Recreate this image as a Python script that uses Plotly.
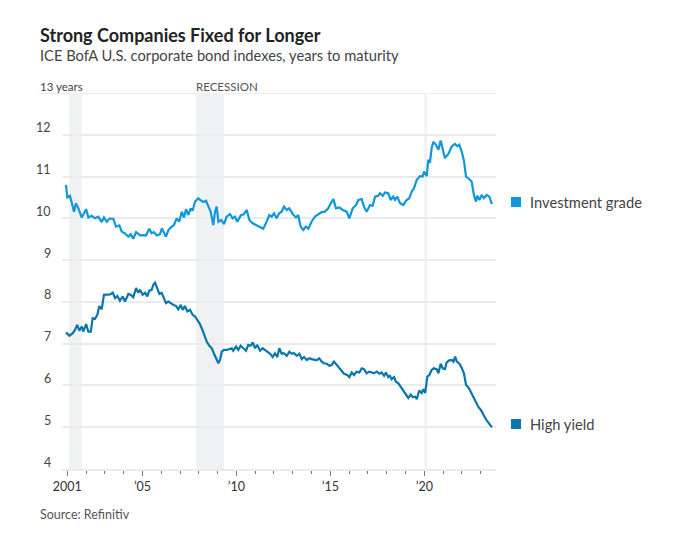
import plotly.graph_objects as go

# ---- data (decimal years, years to maturity) ----
ig_year = [2000.93, 2001.0, 2001.14, 2001.23, 2001.36, 2001.46, 2001.59, 2001.77, 2002.0, 2002.12,
           2002.30, 2002.47, 2002.65, 2002.83, 2002.95, 2003.10, 2003.24, 2003.45, 2003.59, 2003.77,
           2003.90, 2004.07, 2004.25, 2004.37, 2004.51, 2004.66, 2004.87, 2005.04, 2005.19, 2005.36,
           2005.49, 2005.61, 2005.76, 2005.93, 2006.04, 2006.25, 2006.38, 2006.56, 2006.68, 2006.82,
           2006.96, 2007.09, 2007.21, 2007.32, 2007.44, 2007.57, 2007.67, 2007.80, 2007.97, 2008.06,
           2008.15, 2008.24, 2008.38, 2008.50, 2008.63, 2008.77, 2008.86, 2008.95, 2009.04, 2009.20,
           2009.34, 2009.48, 2009.66, 2009.80, 2009.92, 2010.05, 2010.23, 2010.40, 2010.55, 2010.69,
           2010.87, 2011.04, 2011.22, 2011.43, 2011.61, 2011.75, 2011.88, 2012.0, 2012.14, 2012.28,
           2012.41, 2012.53, 2012.68, 2012.81, 2013.0, 2013.17, 2013.29, 2013.42, 2013.56, 2013.70,
           2013.83, 2014.0, 2014.18, 2014.36, 2014.54, 2014.71, 2014.89, 2015.02, 2015.16, 2015.30,
           2015.48, 2015.66, 2015.87, 2016.01, 2016.19, 2016.37, 2016.49, 2016.67, 2016.79, 2016.93,
           2017.11, 2017.25, 2017.38, 2017.55, 2017.64, 2017.79, 2017.91, 2018.08, 2018.21, 2018.35,
           2018.44, 2018.56, 2018.71, 2018.88, 2019.06, 2019.20, 2019.33, 2019.45, 2019.60, 2019.77,
           2019.91, 2019.98, 2020.13, 2020.21, 2020.30, 2020.39, 2020.48, 2020.62, 2020.75, 2020.87,
           2020.98, 2021.10, 2021.28, 2021.46, 2021.63, 2021.76, 2021.86, 2021.99, 2022.11, 2022.22,
           2022.34, 2022.52, 2022.64, 2022.75, 2022.82, 2022.93, 2023.05, 2023.17, 2023.32, 2023.46,
           2023.60]
ig_value = [10.80, 10.50, 10.54, 10.40, 10.16, 10.36, 10.24, 10.02, 10.22, 10.02,
            10.06, 10.00, 10.04, 9.91, 10.02, 9.92, 9.99, 9.99, 9.80, 9.83,
            9.68, 9.64, 9.56, 9.62, 9.51, 9.67, 9.59, 9.60, 9.59, 9.75,
            9.64, 9.67, 9.59, 9.62, 9.76, 9.56, 9.72, 9.80, 9.84, 10.00,
            9.92, 10.16, 10.02, 10.22, 10.08, 10.24, 10.18, 10.40, 10.48, 10.44,
            10.42, 10.39, 10.42, 10.28, 10.16, 9.84, 10.16, 10.28, 9.92, 9.96,
            9.86, 10.04, 10.10, 10.00, 10.04, 9.92, 10.07, 10.10, 10.20, 9.96,
            9.88, 9.84, 9.80, 9.75, 9.92, 10.08, 10.04, 10.12, 10.00, 10.12,
            10.16, 10.28, 10.20, 10.24, 10.10, 10.02, 10.08, 9.80, 9.72, 9.80,
            9.75, 9.92, 10.04, 10.10, 10.15, 10.16, 10.24, 10.36, 10.46, 10.24,
            10.26, 10.20, 10.16, 10.00, 10.24, 10.32, 10.44, 10.46, 10.28, 10.16,
            10.32, 10.30, 10.52, 10.54, 10.60, 10.54, 10.62, 10.60, 10.44, 10.52,
            10.44, 10.52, 10.36, 10.32, 10.44, 10.48, 10.64, 10.72, 10.92, 11.01,
            11.00, 11.12, 11.01, 11.40, 11.33, 11.68, 11.83, 11.76, 11.64, 11.86,
            11.64, 11.44, 11.54, 11.72, 11.78, 11.73, 11.76, 11.60, 11.38, 11.00,
            10.96, 10.88, 10.56, 10.40, 10.54, 10.44, 10.56, 10.48, 10.56, 10.52,
            10.34]

hy_year = [2000.93, 2001.11, 2001.29, 2001.41, 2001.53, 2001.64, 2001.77, 2001.85, 2002.0, 2002.12,
           2002.25, 2002.35, 2002.47, 2002.60, 2002.70, 2002.83, 2002.95, 2003.10, 2003.27, 2003.42,
           2003.54, 2003.66, 2003.80, 2003.95, 2004.07, 2004.25, 2004.37, 2004.51, 2004.66, 2004.78,
           2004.87, 2005.01, 2005.14, 2005.26, 2005.36, 2005.49, 2005.58, 2005.67, 2005.79, 2005.90,
           2006.02, 2006.15, 2006.25, 2006.38, 2006.50, 2006.64, 2006.79, 2006.91, 2007.04, 2007.14,
           2007.26, 2007.39, 2007.53, 2007.67, 2007.80, 2007.92, 2008.06, 2008.21, 2008.33, 2008.42,
           2008.56, 2008.69, 2008.81, 2008.91, 2009.04, 2009.13, 2009.22, 2009.34, 2009.48, 2009.62,
           2009.75, 2009.83, 2009.98, 2010.10, 2010.23, 2010.37, 2010.51, 2010.63, 2010.76, 2010.87,
           2010.99, 2011.11, 2011.26, 2011.40, 2011.52, 2011.64, 2011.79, 2011.93, 2012.05, 2012.18,
           2012.28, 2012.41, 2012.53, 2012.68, 2012.82, 2012.94, 2013.07, 2013.21, 2013.35, 2013.48,
           2013.60, 2013.74, 2013.88, 2014.01, 2014.13, 2014.27, 2014.41, 2014.54, 2014.66, 2014.81,
           2014.94, 2015.07, 2015.19, 2015.34, 2015.48, 2015.60, 2015.73, 2015.90, 2016.01, 2016.14,
           2016.26, 2016.40, 2016.54, 2016.67, 2016.79, 2016.93, 2017.07, 2017.20, 2017.32, 2017.47,
           2017.61, 2017.73, 2017.86, 2017.96, 2018.08, 2018.17, 2018.26, 2018.39, 2018.49, 2018.62,
           2018.74, 2018.88, 2019.03, 2019.15, 2019.28, 2019.38, 2019.51, 2019.60, 2019.73, 2019.86,
           2019.95, 2020.05, 2020.16, 2020.27, 2020.39, 2020.51, 2020.66, 2020.75, 2020.87, 2020.98,
           2021.10, 2021.19, 2021.33, 2021.46, 2021.55, 2021.64, 2021.73, 2021.87, 2022.0, 2022.11,
           2022.22, 2022.34, 2022.47, 2022.61, 2022.75, 2022.87, 2023.0, 2023.14, 2023.28, 2023.41,
           2023.53, 2023.60]
hy_value = [7.27, 7.19, 7.25, 7.33, 7.45, 7.31, 7.41, 7.29, 7.47, 7.29,
            7.29, 7.61, 7.59, 7.69, 7.90, 7.82, 8.17, 8.17, 8.18, 8.22,
            8.09, 8.14, 8.03, 8.13, 8.01, 8.19, 8.17, 8.11, 8.33, 8.22,
            8.29, 8.17, 8.22, 8.13, 8.27, 8.29, 8.41, 8.46, 8.33, 8.19,
            8.22, 8.09, 7.97, 8.01, 7.97, 7.93, 7.90, 7.82, 7.93, 7.81,
            7.90, 7.77, 7.81, 7.69, 7.65, 7.57, 7.47, 7.31, 7.13, 7.05,
            6.95, 6.89, 6.76, 6.65, 6.53, 6.61, 6.81, 6.85, 6.85, 6.87,
            6.89, 6.83, 6.93, 6.85, 6.95, 6.89, 6.83, 6.97, 6.95, 7.03,
            6.89, 6.97, 6.83, 6.89, 6.85, 6.81, 6.76, 6.68, 6.77, 6.68,
            6.89, 6.76, 6.77, 6.71, 6.81, 6.76, 6.77, 6.71, 6.76, 6.63,
            6.68, 6.61, 6.65, 6.63, 6.61, 6.60, 6.65, 6.57, 6.53, 6.52,
            6.47, 6.49, 6.57, 6.49, 6.44, 6.36, 6.28, 6.25, 6.20, 6.31,
            6.25, 6.33, 6.31, 6.41, 6.39, 6.29, 6.33, 6.31, 6.29, 6.33,
            6.28, 6.31, 6.23, 6.31, 6.20, 6.23, 6.15, 6.20, 6.09, 6.05,
            5.97, 5.89, 5.80, 5.70, 5.78, 5.72, 5.73, 5.67, 5.88, 5.82,
            5.91, 5.82, 6.21, 6.25, 6.37, 6.41, 6.39, 6.29, 6.52, 6.41,
            6.39, 6.55, 6.60, 6.61, 6.57, 6.69, 6.57, 6.52, 6.41, 6.29,
            6.01, 5.96, 5.85, 5.73, 5.61, 5.49, 5.42, 5.30, 5.19, 5.11,
            5.03, 5.00]

recessions = [(2001.10, 2001.77), (2007.85, 2009.35), (2020.0, 2020.15)]
x_tick_vals = [2001, 2005, 2010, 2015, 2020]
x_tick_text = ["2001", "\u201905", "\u201910", "\u201915", "\u201920"]
y_tick_vals = [12, 11, 10, 9, 8, 7, 6, 5, 4]
series_names = ["Investment grade", "High yield"]
series_colors = ["#0f97d8", "#0a76ab"]

# ---- layout geometry (pixels) ----
W, H = 676, 536
L, R, T, B = 62, 180, 93, 67
PW, PH = W - L - R, H - T - B

def px(x):
    return (x - L) / PW

def py(y):
    return (H - B - y) / PH

FONT = "Lato"
fig = go.Figure()

for (x0, x1) in recessions:
    fig.add_shape(type="rect", xref="x", yref="y", x0=x0, x1=x1, y0=4, y1=13,
                  fillcolor="#f0f1f3", line_width=0, layer="below")

fig.add_trace(go.Scatter(x=ig_year, y=ig_value, mode="lines", name=series_names[0],
                         line=dict(color=series_colors[0], width=2.2), hoverinfo="skip"))
fig.add_trace(go.Scatter(x=hy_year, y=hy_value, mode="lines", name=series_names[1],
                         line=dict(color=series_colors[1], width=2.2), hoverinfo="skip"))

# top gridline extends under "13 years"
fig.add_shape(type="line", xref="paper", yref="y", x0=px(39), x1=1, y0=13, y1=13,
              line=dict(color="#ebebeb", width=2), layer="below")

annotations = []
annotations.append(dict(text="<b>Strong Companies Fixed for Longer</b>", x=px(38), y=py(35),
                        xref="paper", yref="paper", xanchor="left", yanchor="middle", showarrow=False,
                        font=dict(family=FONT, size=18, color="#222222")))
annotations.append(dict(text="ICE BofA U.S. corporate bond indexes, years to maturity", x=px(38), y=py(55),
                        xref="paper", yref="paper", xanchor="left", yanchor="middle", showarrow=False,
                        font=dict(family=FONT, size=14.7, color="#444444")))
annotations.append(dict(text="Source: Refinitiv", x=px(38), y=py(514),
                        xref="paper", yref="paper", xanchor="left", yanchor="middle", showarrow=False,
                        font=dict(family=FONT, size=12.5, color="#555555")))
annotations.append(dict(text="13 years", x=px(38), y=py(86.5),
                        xref="paper", yref="paper", xanchor="left", yanchor="middle", showarrow=False,
                        font=dict(family=FONT, size=11.5, color="#444444")))
annotations.append(dict(text="RECESSION", x=recessions[1][0], y=py(86.5),
                        xref="x", yref="paper", xanchor="left", yanchor="middle", showarrow=False,
                        xshift=-2, font=dict(family=FONT, size=11.5, color="#555555")))
for v in y_tick_vals:
    annotations.append(dict(text=str(v), x=px(53), y=v, xref="paper", yref="y",
                            xanchor="right", yanchor="middle", yshift=7, showarrow=False,
                            font=dict(family=FONT, size=12.5, color="#444444")))

legend_y = [202, 424]
for name, color, ly in zip(series_names, series_colors, legend_y):
    fig.add_shape(type="rect", xref="paper", yref="paper", x0=px(511), x1=px(521),
                  y0=py(ly + 5), y1=py(ly - 5), fillcolor=color, line_width=0)
    annotations.append(dict(text=name, x=px(528), y=py(ly), xref="paper", yref="paper",
                            xanchor="left", yanchor="middle", showarrow=False,
                            font=dict(family=FONT, size=14.7, color="#444444")))

fig.update_layout(
    width=W, height=H,
    margin=dict(l=L, r=R, t=T, b=B),
    paper_bgcolor="white", plot_bgcolor="white",
    showlegend=False,
    annotations=annotations,
    font=dict(family=FONT),
    xaxis=dict(range=[2000.718, 2023.816], tickmode="array", tickvals=x_tick_vals,
               ticktext=x_tick_text, ticks="outside", ticklen=5, tickcolor="#777777",
               tickwidth=1, showgrid=False, zeroline=False, showline=True,
               linecolor="#ebebeb", linewidth=2,
               tickfont=dict(family=FONT, size=12.5, color="#333333"),
               minor=dict(dtick=1, tick0=2001, ticks="outside", ticklen=3, tickcolor="#777777",
                          showgrid=False)),
    yaxis=dict(range=[4, 13], tickvals=[4, 5, 6, 7, 8, 9, 10, 11, 12, 13], showticklabels=False,
               showgrid=True, gridcolor="#ebebeb", gridwidth=2, zeroline=False, showline=False,
               ticks=""),
)

fig.write_html("out.html")
